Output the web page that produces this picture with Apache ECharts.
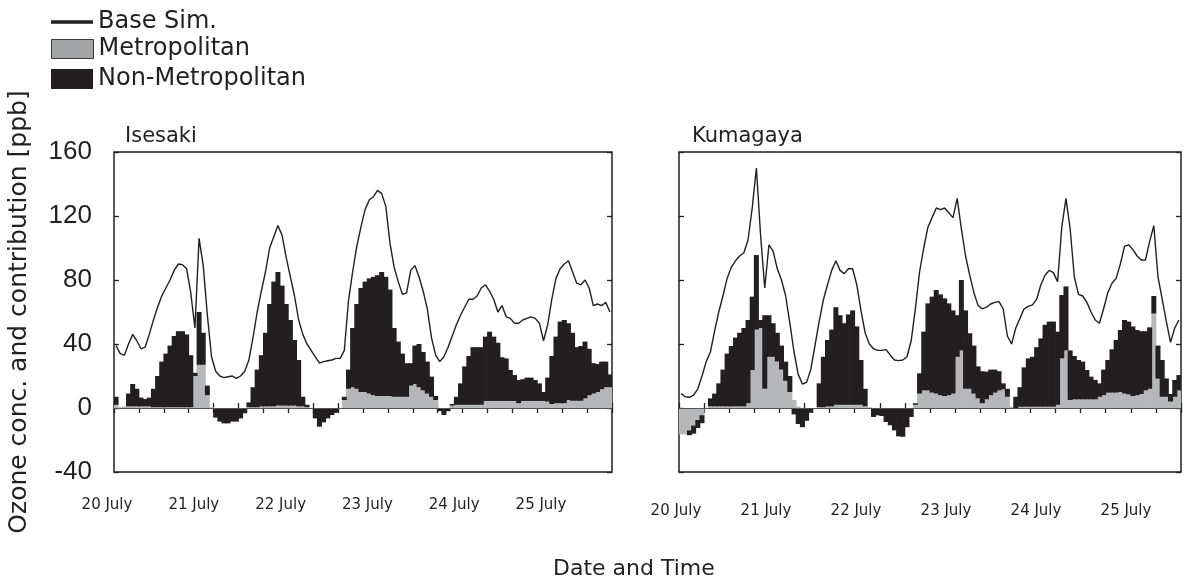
<!DOCTYPE html>
<html>
<head>
    <title>Ozone contribution</title>
    <meta http-equiv="Content-Type" content="text/html; charset=utf-8" />
    <script src="https://cdn.jsdelivr.net/npm/echarts@6/dist/echarts.min.js"></script>
</head>
<body style="margin:0;background:#fff;">
    <div id="main" style="width:1204px;height:581px;"></div>
    <script type="text/javascript">
        // hourly slots, 20 July 00h .. 24 July 23h
        var hours = [];
        for (var h = 0; h < 120; h++) hours.push(h);
        var dayLabels = ['20 July', '21 July', '22 July', '23 July', '24 July', '25 July'];

        // Isesaki
        var isesakiBase = [39,34,33,40,46,42,37,38,46,55,
            63,70,75,80,86,90,89.5,87,72,50,
            106,89,58,32,23,20,19,19.5,20,18.5,
            20,23,30,44,60,73,85,100,107,114,
            108,94,82,70,55,46,40,36,32,28,
            29,29.5,30,31,31,36,67,85,101,113,
            124,130,132,136,134,126,103,88,79,71,
            72,86,89,82,73,62,44,33,29,32,
            38,45,52,58,63,68,68,70,75,77,
            73,68,60,64,57,56,53,53,55,56,
            57,56,53,42,52,68,81,87,90,92,
            85,78,77,80,75,64,65,64,66,60];
        var isesakiMetro = [2,0.5,1,1,1,1,1,1,1,0.5,
            0.5,0.5,0.5,0.5,0.5,0.5,0.5,0.5,0.5,20,
            27,27,8,0.5,0,0,0,0,0,0,
            0,0,0.5,0.5,0.5,1,1,1,1,1.5,
            1.5,1.5,1.5,1.5,1,1,0.5,0,0,0,
            0,0,0,0,0,5,12,13,12,10,
            10,9,8,7.5,7.5,7.5,7.5,7,7,7,
            7,14,15,13,11,9,7,5,0,0,
            0,1.5,2,2,2,2,2,2,2,4.4,
            4.4,4.4,4.4,4.4,4.4,4.4,4.4,3,4.4,4.4,
            4.4,4.4,4.4,4.4,4,2.5,3,3,3,5,
            4.5,4.5,4.5,6,8,9,10,11.7,13,13];
        var isesakiNonMetro = [5,0,0,8,14,11,5.5,4.6,5.5,11.5,
            19.5,28.5,33.5,38.5,44.5,47.5,47.5,45.5,32.5,2,
            33,20,6,0,-6,-8.5,-9.6,-9.6,-8.5,-8.5,
            -6.5,-3.3,3,12.5,23.5,32,46,64,78,83.5,
            75,63.5,53.5,41,29,6,1.5,0,-6.5,-11.7,
            -9,-6.5,-4.4,-3,0,2,12,37,53,65,
            69,72,74,75.5,77.5,74.5,66.5,43,34.5,27,
            21,14,24,27,24,20,12.6,2.5,-2,-4.4,
            -2,1,5,13.4,24,30.5,36,36,36,40.2,
            43.3,40.2,36.4,27.3,26.6,19.4,16.2,14.5,13.6,14.6,
            14.6,13.1,11,5.6,15,30,41.6,51,52,48,
            42.5,33.5,34.25,35.5,29,19,17.5,17.3,16,8];

        // Kumagaya
        var kumagayaBase = [9,7,6.7,8,12,20,29,35,48,60,
            70,81,88,92,95,97,105,125,150,108,
            75,102,98,87,80,70,53,35,21,15,
            16,24,39,54,67.5,77,86,92,86,84,
            87,87,77,61,47,40,37,36,36,36.5,
            33,30,29.6,30,32,42,62,85,100,113,
            119,125,124,125,122,119,131,112,95,83,
            72,64,62,63,65,66,66.5,62,45,40,
            50,56,62,63.5,64.5,68,77,83,86,84.6,
            79,113,131,112,82,71,70,66,60,55,
            53,62,72,78,81,90,101,102,99,95,
            92.5,92.5,104,114,82,68,54,41,50,55];
        var kumagayaMetro = [-16.5,-16.5,-14,-11,-7.5,-4.5,0,1,1,1,
            1,1,1,1,1,1,3,23.75,49,50,
            12,32,32,29,24,17,10,5,1,0,
            0,0,0,0.5,0.5,1,1,2,2,2,
            2,2,2,2,1,0.5,0,0,0,0,
            0,0,0,0,0,0,2,9,11,11,
            9.6,9,8,7.5,8,9,32,36,12,12,
            9,6,3,5.4,8,9.6,11,11.7,7,0.8,
            0,0.8,0.8,0.8,0.8,0.8,0.8,0.8,0.8,0.8,
            2,31,36,5,5.4,5.4,5.4,5.4,5.4,5.4,
            7,8,9.6,9.6,9.6,10,9,8.5,7.5,8,
            8.75,11,12,59,18.3,7,7,4,7,11];
        var kumagayaNonMetro = [0,0,-3,-5,-5,-5,0,5,8,14.4,
            23,33,37.75,43,46,49,52,45.85,46.6,5,
            46,26,21,18,15,12,10,-4,-10,-12,
            -8,-3,0,14.9,31.5,41.5,48,61,56,51,
            56.5,59,49,28,11,0,-5.6,-4.6,-5,-8.75,
            -10.8,-14,-17.7,-18,-12,-5.6,1,12.7,36.7,54.4,
            60,64.75,63,61,57.4,52,26,44,49,34.7,
            30,20,20,17.3,16,14.4,12,3.7,5,0,
            7,12.2,24.6,30.2,31.2,37.2,42.7,51.2,53.2,53.2,
            45.7,39.6,40,31,27.1,24.6,23.6,18.35,14.2,12.1,
            8.4,16,20.4,27.1,32.9,38.75,46,45.5,43.5,40.75,
            39.25,37,38.4,11,20.7,23,11.5,4.75,10.5,9.6];

        var ink = '#231f20';
        var grayFill = '#b6b7b9';
        var txtFont = 'DejaVu Sans';

        function hourAxis(grid, pos) {
            return {
                type: 'category', gridIndex: grid, position: pos, data: hours,
                boundaryGap: true,
                axisLine: { show: false },
                axisTick: { show: true, inside: true, interval: 5, length: 5, lineStyle: { color: ink, width: 1.3 } },
                axisLabel: { show: false },
                splitLine: { show: false }
            };
        }
        function dayAxis(grid, margin) {
            return {
                type: 'value', gridIndex: grid, position: 'bottom',
                min: 0, max: 5, interval: 1,
                axisLine: { show: false }, axisTick: { show: false }, splitLine: { show: false },
                axisLabel: {
                    margin: margin, color: ink, fontFamily: txtFont, fontSize: 15,
                    formatter: function (v) { return dayLabels[v]; }
                }
            };
        }
        function concAxis(grid, pos, labels) {
            return {
                type: 'value', gridIndex: grid, position: pos,
                min: -40, max: 160, interval: 40,
                axisLine: { show: false },
                axisTick: { show: true, inside: true, length: 5, lineStyle: { color: ink, width: 1.3 } },
                axisLabel: { show: labels, margin: 22, color: ink, fontFamily: 'Liberation Sans', fontSize: 26 },
                splitLine: { show: false }
            };
        }
        function panelSeries(xi, yi, key, metro, nonMetro, base) {
            return [
                {
                    name: 'Metropolitan', type: 'bar', xAxisIndex: xi, yAxisIndex: yi, stack: key,
                    data: metro, barWidth: 5,
                    itemStyle: { color: grayFill, borderWidth: 0 },
                    markLine: {
                        silent: true, symbol: 'none', label: { show: false },
                        lineStyle: { color: '#555', width: 1, type: 'solid' },
                        data: [{ yAxis: 0 }]
                    }
                },
                {
                    name: 'Non-Metropolitan', type: 'bar', xAxisIndex: xi, yAxisIndex: yi, stack: key,
                    data: nonMetro, barWidth: 5,
                    itemStyle: { color: ink, borderWidth: 0 }
                },
                {
                    name: 'Base Sim.', type: 'line', xAxisIndex: xi, yAxisIndex: yi,
                    data: base, symbol: 'none', showSymbol: false, smooth: false,
                    lineStyle: { color: ink, width: 1.4 }, itemStyle: { color: ink }
                }
            ];
        }
        function legendBox(item, top, iconH) {
            return {
                data: [item], left: 51, top: top, orient: 'vertical', padding: 0,
                icon: 'rect', itemWidth: 42, itemHeight: iconH, itemGap: 0, selectedMode: false,
                textStyle: { color: ink, fontFamily: txtFont, fontSize: 24 }
            };
        }

        var chart = echarts.init(document.getElementById('main'));
        var option = {
            animation: false,
            backgroundColor: '#fff',
            title: [
                { text: 'Isesaki', left: 120, top: 121, textStyle: { color: ink, fontFamily: txtFont, fontSize: 21, fontWeight: 'normal' } },
                { text: 'Kumagaya', left: 687, top: 121, textStyle: { color: ink, fontFamily: txtFont, fontSize: 21, fontWeight: 'normal' } },
                { text: 'Date and Time', left: 548, top: 553, textStyle: { color: ink, fontFamily: txtFont, fontSize: 22, fontWeight: 'normal' } }
            ],
            legend: [
                legendBox({ name: 'Base Sim.', itemStyle: { color: ink } }, 10, 3.5),
                legendBox({ name: 'Metropolitan', itemStyle: { color: '#a3a4a6', borderColor: '#3a3a3a', borderWidth: 1 } }, 37, 19),
                legendBox({ name: 'Non-Metropolitan', itemStyle: { color: ink } }, 67, 20)
            ],
            grid: [
                { left: 114, top: 152, width: 498, height: 320, show: true, borderColor: ink, borderWidth: 1.5 },
                { left: 679, top: 152, width: 502, height: 320, show: true, borderColor: ink, borderWidth: 1.5 },
                { left: 107, top: 152, width: 434, height: 320 },
                { left: 676, top: 152, width: 450, height: 320 }
            ],
            xAxis: [
                hourAxis(0, 'bottom'), hourAxis(0, 'top'),
                hourAxis(1, 'bottom'), hourAxis(1, 'top'),
                dayAxis(2, 26), dayAxis(3, 32)
            ],
            yAxis: [
                Object.assign(concAxis(0, 'left', true), {
                    name: 'Ozone conc. and contribution [ppb]', nameLocation: 'middle', nameRotate: 90, nameGap: 82,
                    nameTextStyle: { color: ink, fontFamily: txtFont, fontSize: 25 }
                }),
                concAxis(0, 'right', false),
                concAxis(1, 'left', false),
                concAxis(1, 'right', false),
                { type: 'value', gridIndex: 2, show: false },
                { type: 'value', gridIndex: 3, show: false }
            ],
            series: panelSeries(0, 0, 'ise', isesakiMetro, isesakiNonMetro, isesakiBase)
                .concat(panelSeries(2, 2, 'kum', kumagayaMetro, kumagayaNonMetro, kumagayaBase))
        };
        chart.setOption(option);
    </script>
</body>
</html>
